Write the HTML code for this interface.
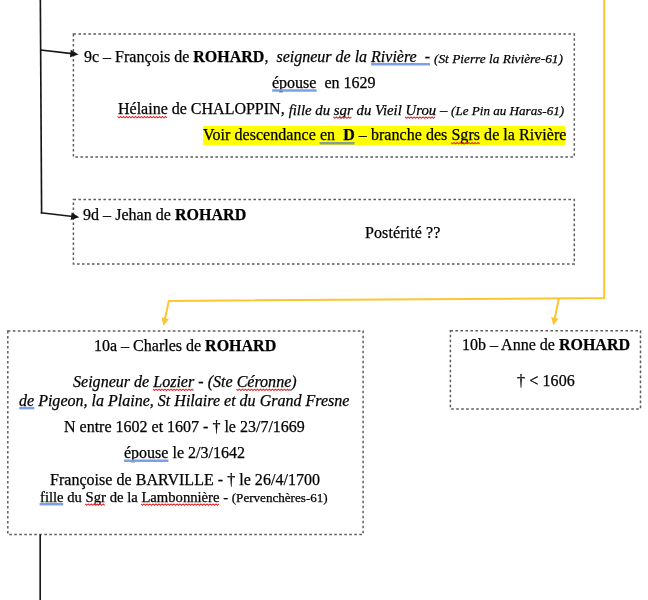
<!DOCTYPE html>
<html><head><meta charset="utf-8">
<style>
html,body{margin:0;padding:0;background:#fff;}
body{-webkit-font-smoothing:antialiased;width:648px;height:600px;position:relative;overflow:hidden;font-family:"Liberation Serif",serif;color:#000;}
svg{position:absolute;left:0;top:0;}
.t{will-change:transform;-webkit-text-stroke:0.25px #000;position:absolute;white-space:pre;font-size:16px;line-height:16px;}
.s13{font-size:13px;}
.s14{font-size:14px;}
.s147{font-size:14.67px;}
.bl{}
.rd{}
.hl{background:#ffff00;}
</style></head><body>
<svg width="648" height="600" viewBox="0 0 648 600">
  <!-- dashed boxes -->
  <g fill="none" stroke="#5e5e5e" stroke-width="1.5" stroke-dasharray="2.6 2.4">
    <rect x="73.4" y="34.1" width="500.9" height="122.8"/>
    <rect x="73.4" y="199.5" width="500.9" height="64.4"/>
    <rect x="7.8" y="331" width="355.3" height="203.5"/>
    <rect x="450.4" y="330.7" width="190.1" height="78.2"/>
  </g>
  <!-- black connectors -->
  <g stroke="#161616" stroke-width="1.65" fill="none">
    <line x1="40.35" y1="0" x2="41.6" y2="213.6"/>
    <line x1="40.7" y1="50" x2="71.94" y2="53.66"/>
    <line x1="40.8" y1="212.8" x2="72.85" y2="216.54"/>
    <line x1="40.2" y1="534.5" x2="40.2" y2="600"/>
  </g>
  <g fill="#161616">
    <polygon points="78.50,54.40 69.92,57.23 70.79,49.68"/>
    <polygon points="79.30,217.30 70.71,220.10 71.61,212.55"/>
  </g>
  <!-- orange connectors -->
  <g stroke="#ffc530" stroke-width="2" fill="none" stroke-linejoin="round">
    <polyline points="604.2,0 604.2,298 168.8,300.9 164.95,319.24"/>
    <line x1="558.9" y1="298.3" x2="554.64" y2="318.84"/>
  </g>
  <g fill="#ffc530">
    <polygon points="163.60,325.70 161.44,317.48 168.88,319.04"/>
    <polygon points="553.30,325.30 551.12,317.09 558.56,318.63"/>
  </g>
</svg>

<!-- Box 1 -->
<div class="t" style="left:84px;top:48.6px">9c – François de <b>ROHARD</b>,  <i>seigneur de la <span class="bl">Rivière  -</span> </i><i style="font-size:13.33px;position:relative;top:0.5px">(St Pierre la Rivière-61)</i></div>
<div class="t" style="left:272.2px;top:74.8px"><span class="bl">épouse</span>  en 1629</div>
<div class="t" style="left:117.5px;top:101.1px"><span class="rd">Hélaine</span> de CHALOPPIN, <i style="font-size:14.8px;position:relative;top:0.5px">fille du <span class="rd">sgr</span> du Vieil <span class="rd">Urou</span> – </i><i style="font-size:13.1px;position:relative;top:0.8px">(Le Pin au Haras-61)</i></div>
<div class="t hl" style="left:202.7px;top:126.2px;width:362.1px;line-height:18.5px;letter-spacing:0.045px">Voir descendance <span class="bl">en  <b>D</b></span> – branche des <span class="rd">Sgrs</span> de la Rivière</div>

<!-- Box 2 -->
<div class="t" style="left:83px;top:207px;letter-spacing:0.03px">9d – Jehan de <b>ROHARD</b></div>
<div class="t" style="left:364.6px;top:224.8px;letter-spacing:0.1px">Postérité ??</div>

<!-- Box 10a -->
<div class="t" style="left:94.4px;top:337.8px">10a – Charles de <b>ROHARD</b></div>
<div class="t" style="left:72.8px;top:373.8px;letter-spacing:0.02px"><i>Seigneur de <span class="rd">Lozier</span> - (Ste <span class="rd">Céronne</span>)</i></div>
<div class="t" style="left:19.2px;top:392.5px;letter-spacing:0.01px"><i><span class="bl">de</span> Pigeon, la Plaine, St Hilaire et du Grand Fresne</i></div>
<div class="t" style="left:64.2px;top:419.1px">N entre 1602 et 1607 - † le 23/7/1669</div>
<div class="t" style="left:124px;top:445.2px"><span class="bl">épouse</span> le 2/3/1642</div>
<div class="t" style="left:50px;top:471.9px;letter-spacing:0.03px">Françoise de BARVILLE - † le 26/4/1700</div>
<div class="t" style="left:39.6px;top:489.6px;font-size:14.67px;line-height:14px"><span class="bl">fille</span> du <span class="rd">Sgr</span> de la <span class="rd">Lambonnière</span> - <span style="font-size:13.1px">(Pervenchères-61)</span></div>

<!-- Box 10b -->
<div class="t" style="left:462px;top:336.8px">10b – Anne de <b>ROHARD</b></div>
<div class="t" style="left:516.6px;top:373.1px;letter-spacing:0.12px">† &lt; 1606</div>

<!-- UL -->
<svg width="648" height="600" viewBox="0 0 648 600" style="position:absolute;left:0;top:0">
<g stroke="#7aa0ea" stroke-width="2.5"><line x1="371.1" y1="64.2" x2="430.0" y2="64.2"/><line x1="272.2" y1="90.4" x2="316.6" y2="90.4"/><line x1="319.6" y1="143.2" x2="354.5" y2="143.2" stroke="#86a090"/><line x1="19.2" y1="408.1" x2="34.3" y2="408.1"/><line x1="124.0" y1="460.8" x2="168.4" y2="460.8"/><line x1="39.6" y1="504.2" x2="63.2" y2="504.2"/></g>
<g stroke="#e82a30" stroke-width="1.05" fill="none"><polyline points="117.5,116.4 119.0,117.8 120.5,116.4 122.0,117.8 123.5,116.4 125.0,117.8 126.5,116.4 128.0,117.8 129.5,116.4 131.0,117.8 132.5,116.4 134.0,117.8 135.5,116.4 137.0,117.8 138.5,116.4 140.0,117.8 141.5,116.4 143.0,117.8 144.5,116.4 146.0,117.8 147.5,116.4 149.0,117.8 150.5,116.4 152.0,117.8 153.5,116.4 155.0,117.8 156.5,116.4 158.0,117.8 159.5,116.4 161.0,117.8 162.5,116.4 164.0,117.8 165.5,116.4 167.0,117.8"/><polyline points="333.4,116.9 334.9,118.3 336.4,116.9 337.9,118.3 339.4,116.9 340.9,118.3 342.4,116.9 343.9,118.3 345.4,116.9 346.9,118.3 348.4,116.9 349.9,118.3 351.4,116.9"/><polyline points="405.0,116.9 406.5,118.3 408.0,116.9 409.5,118.3 411.0,116.9 412.5,118.3 414.0,116.9 415.5,118.3 417.0,116.9 418.5,118.3 420.0,116.9 421.5,118.3 423.0,116.9 424.5,118.3 426.0,116.9 427.5,118.3 429.0,116.9 430.5,118.3 432.0,116.9 433.5,118.3 435.0,116.9"/><polyline points="451.1,142.5 452.6,143.9 454.1,142.5 455.6,143.9 457.1,142.5 458.6,143.9 460.1,142.5 461.6,143.9 463.1,142.5 464.6,143.9 466.1,142.5 467.6,143.9 469.1,142.5 470.6,143.9 472.1,142.5 473.6,143.9 475.1,142.5 476.6,143.9 478.1,142.5 479.6,143.9"/><polyline points="153.0,389.1 154.5,390.5 156.0,389.1 157.5,390.5 159.0,389.1 160.5,390.5 162.0,389.1 163.5,390.5 165.0,389.1 166.5,390.5 168.0,389.1 169.5,390.5 171.0,389.1 172.5,390.5 174.0,389.1 175.5,390.5 177.0,389.1 178.5,390.5 180.0,389.1 181.5,390.5 183.0,389.1 184.5,390.5 186.0,389.1 187.5,390.5 189.0,389.1 190.5,390.5 192.0,389.1 193.5,390.5"/><polyline points="236.4,389.1 237.9,390.5 239.4,389.1 240.9,390.5 242.4,389.1 243.9,390.5 245.4,389.1 246.9,390.5 248.4,389.1 249.9,390.5 251.4,389.1 252.9,390.5 254.4,389.1 255.9,390.5 257.4,389.1 258.9,390.5 260.4,389.1 261.9,390.5 263.4,389.1 264.9,390.5 266.4,389.1 267.9,390.5 269.4,389.1 270.9,390.5 272.4,389.1 273.9,390.5 275.4,389.1 276.9,390.5 278.4,389.1 279.9,390.5 281.4,389.1 282.9,390.5 284.4,389.1 285.9,390.5 287.4,389.1 288.9,390.5 290.4,389.1"/><polyline points="85.2,503.9 86.7,505.3 88.2,503.9 89.7,505.3 91.2,503.9 92.7,505.3 94.2,503.9 95.7,505.3 97.2,503.9 98.7,505.3 100.2,503.9 101.7,505.3 103.2,503.9 104.7,505.3"/><polyline points="141.0,503.9 142.5,505.3 144.0,503.9 145.5,505.3 147.0,503.9 148.5,505.3 150.0,503.9 151.5,505.3 153.0,503.9 154.5,505.3 156.0,503.9 157.5,505.3 159.0,503.9 160.5,505.3 162.0,503.9 163.5,505.3 165.0,503.9 166.5,505.3 168.0,503.9 169.5,505.3 171.0,503.9 172.5,505.3 174.0,503.9 175.5,505.3 177.0,503.9 178.5,505.3 180.0,503.9 181.5,505.3 183.0,503.9 184.5,505.3 186.0,503.9 187.5,505.3 189.0,503.9 190.5,505.3 192.0,503.9 193.5,505.3 195.0,503.9 196.5,505.3 198.0,503.9 199.5,505.3 201.0,503.9 202.5,505.3 204.0,503.9 205.5,505.3 207.0,503.9 208.5,505.3 210.0,503.9 211.5,505.3 213.0,503.9 214.5,505.3 216.0,503.9 217.5,505.3 219.0,503.9"/></g>
</svg>
<!-- /UL -->
</body></html>
